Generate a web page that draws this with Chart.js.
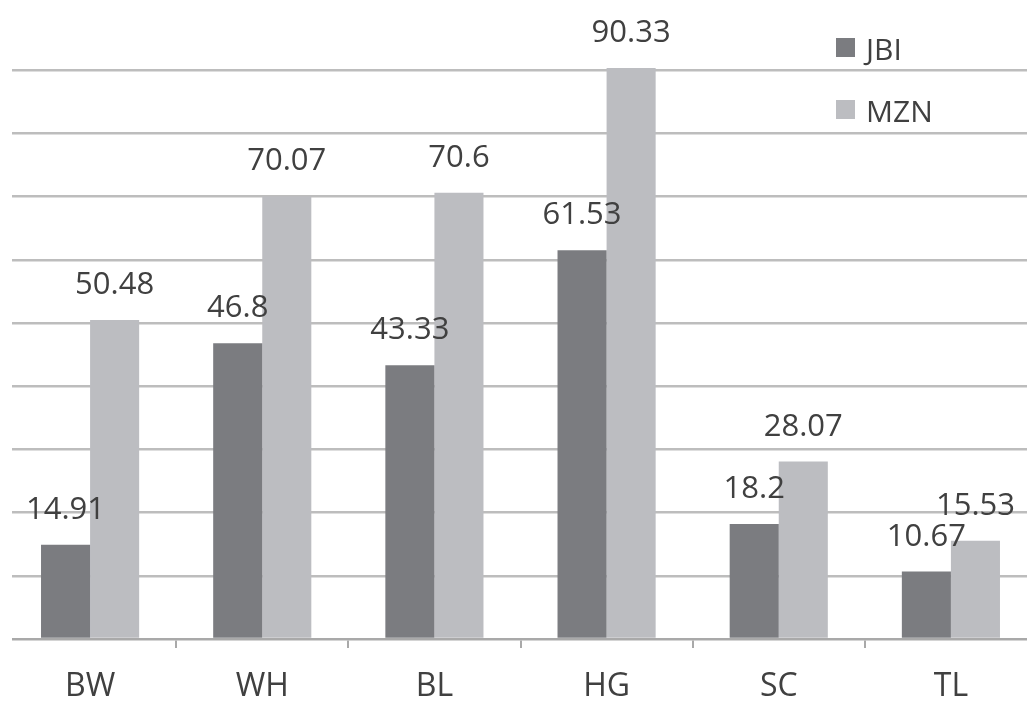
<!DOCTYPE html>
<html>
<head>
<meta charset="utf-8">
<script src="https://cdn.jsdelivr.net/npm/chart.js@4/dist/chart.umd.min.js"></script>
<style>
  html, body { margin: 0; padding: 0; background: #ffffff; overflow: hidden; }
  #wrap { width: 1027px; height: 728px; overflow: hidden; position: relative; }
  #chart { position: absolute; left: 0; top: 0; }
</style>
</head>
<body>
<div id="wrap"><canvas id="chart" width="1045" height="728"></canvas></div>
<script>
// Sites and the two measured series
const categories = ['BW', 'WH', 'BL', 'HG', 'SC', 'TL'];
const seriesNames = ['JBI', 'MZN'];
const jbiValues = [14.91, 46.8, 43.33, 61.53, 18.2, 10.67];
const mznValues = [50.48, 70.07, 70.6, 90.33, 28.07, 15.53];
const yMin = 0;
const yMax = 100;
const yStep = 10;

const FONT = '"Open Sans", "Liberation Sans", sans-serif';
const TEXT = '#404040';
const barColors = ['#7b7c80', '#bcbdc1'];
const CLEAR = 'rgba(0,0,0,0)';

// Trim the rule lines so they begin a little inside the left edge
const leftTrim = {
  id: 'leftTrim',
  beforeDatasetsDraw(chart) {
    const ctx = chart.ctx;
    ctx.save();
    ctx.fillStyle = '#ffffff';
    ctx.fillRect(0, 0, 12, chart.chartArea.bottom + 12);
    ctx.restore();
  }
};

// Value labels above every bar
const valueLabels = {
  id: 'valueLabels',
  afterDatasetsDraw(chart) {
    const ctx = chart.ctx;
    ctx.save();
    ctx.font = '31px ' + FONT;
    ctx.fillStyle = TEXT;
    ctx.textAlign = 'center';
    ctx.textBaseline = 'alphabetic';
    chart.data.datasets.forEach((ds, i) => {
      const meta = chart.getDatasetMeta(i);
      meta.data.forEach((bar, j) => {
        ctx.fillText(String(ds.data[j]), bar.x, bar.y - 26);
      });
    });
    ctx.restore();
  }
};

// Stacked legend in the top-right corner of the plot
const cornerLegend = {
  id: 'cornerLegend',
  afterDraw(chart) {
    const ctx = chart.ctx;
    ctx.save();
    ctx.font = '30px ' + FONT;
    ctx.textAlign = 'left';
    ctx.textBaseline = 'alphabetic';
    chart.data.datasets.forEach((ds, i) => {
      const base = 60 + i * 62;
      ctx.fillStyle = ds.backgroundColor;
      ctx.fillRect(836, base - 22, 19, 19);
      ctx.fillStyle = TEXT;
      ctx.fillText(ds.label, 866, base);
    });
    ctx.restore();
  }
};

new Chart(document.getElementById('chart'), {
  type: 'bar',
  data: {
    labels: categories,
    datasets: [
      { label: seriesNames[0], data: jbiValues, backgroundColor: barColors[0] },
      { label: seriesNames[1], data: mznValues, backgroundColor: barColors[1] }
    ]
  },
  options: {
    responsive: false,
    animation: false,
    devicePixelRatio: 1,
    datasets: { bar: { categoryPercentage: 0.57, barPercentage: 1.0 } },
    layout: { padding: { left: 4, right: 8, top: 7, bottom: 0 } },
    plugins: {
      legend: { display: false },
      tooltip: { enabled: false }
    },
    scales: {
      x: {
        grid: {
          offset: true,
          drawOnChartArea: false,
          drawTicks: true,
          tickLength: 9,
          color: (c) => c.index === 0 ? CLEAR : '#a9a9a9',
          lineWidth: 2
        },
        border: { display: true, color: '#a9a9a9', width: 2.5 },
        ticks: { font: { family: FONT, size: 32 }, color: TEXT, padding: 20 },
        afterFit(scale) { scale.height = 89; }
      },
      y: {
        min: yMin,
        max: yMax,
        ticks: { display: false, stepSize: yStep },
        grid: {
          drawTicks: false,
          lineWidth: 2.5,
          color: (c) => (c.tick && (c.tick.value === yMax || c.tick.value === yMin)) ? CLEAR : '#bdbdbd'
        },
        border: { display: false },
        afterFit(scale) { scale.width = 0; }
      }
    }
  },
  plugins: [leftTrim, valueLabels, cornerLegend]
});
</script>
</body>
</html>
